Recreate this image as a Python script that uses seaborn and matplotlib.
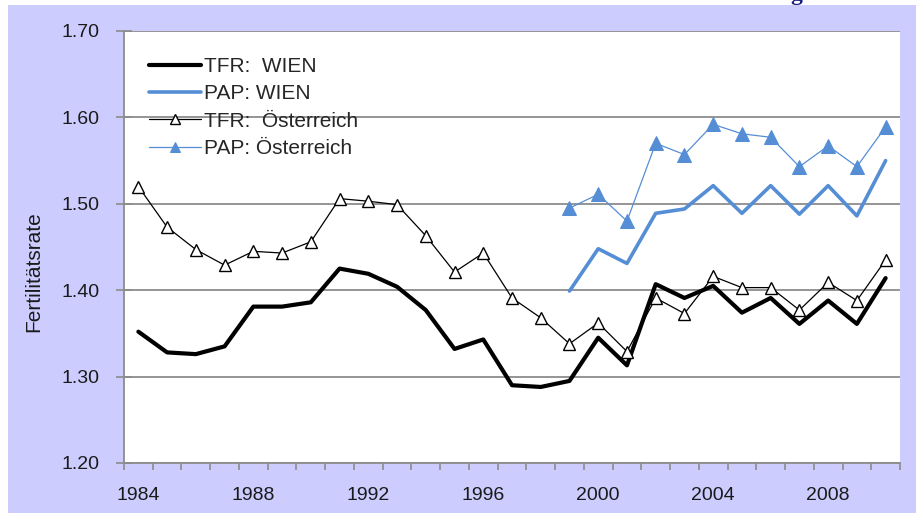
import numpy as np
import pandas as pd
import seaborn as sns
import matplotlib.pyplot as plt
from matplotlib.patches import Rectangle
from matplotlib.ticker import MultipleLocator, FormatStrFormatter

# values
years = list(range(1984, 2011))
tfr_wien = [1.352, 1.328, 1.326, 1.335, 1.381, 1.381, 1.386, 1.425, 1.419, 1.404,
            1.377, 1.332, 1.343, 1.290, 1.288, 1.295, 1.345, 1.313, 1.407, 1.391,
            1.405, 1.374, 1.391, 1.361, 1.388, 1.361, 1.414]
tfr_oe = [1.520, 1.473, 1.447, 1.429, 1.445, 1.443, 1.456, 1.506, 1.503, 1.499,
          1.463, 1.421, 1.443, 1.391, 1.368, 1.338, 1.362, 1.329, 1.391, 1.373,
          1.416, 1.403, 1.403, 1.377, 1.409, 1.388, 1.435]
pap_years = list(range(1999, 2011))
pap_wien = [1.399, 1.448, 1.431, 1.489, 1.494, 1.521, 1.489, 1.521, 1.488, 1.521,
            1.486, 1.550]
pap_oe = [1.495, 1.511, 1.480, 1.570, 1.557, 1.592, 1.581, 1.577, 1.543, 1.567,
          1.543, 1.589]
year_labels = [1984, 1988, 1992, 1996, 2000, 2004, 2008]

BLUE = '#558ed5'
GRID = '#8c8c8c'


def main():
    sns.set_theme(style='white')
    plt.rcParams['font.family'] = ['Liberation Sans', 'DejaVu Sans']

    W, H = 916, 513
    fig = plt.figure(figsize=(W / 100, H / 100), dpi=100)
    fig.patch.set_facecolor('white')
    fig.patches.append(Rectangle((8 / W, 0), 1, (H - 5) / H, transform=fig.transFigure,
                                 facecolor='#ccccff', edgecolor='none', zorder=-5))
    # cut-off heading at the very top
    fig.text(802 / W, 1.0, 'g', ha='right', va='baseline', color='#1a1a80',
             fontsize=17, fontweight='bold', family='Liberation Serif')

    ax = fig.add_axes([124 / W, 50 / H, 776 / W, 432 / H])
    ax.set_facecolor('white')

    sns.lineplot(x=years, y=tfr_wien, ax=ax, color='black', lw=3.0,
                 label='TFR:  WIEN', solid_joinstyle='round')
    sns.lineplot(x=pap_years, y=pap_wien, ax=ax, color=BLUE, lw=2.6,
                 label='PAP: WIEN', solid_joinstyle='round')
    sns.lineplot(x=years, y=tfr_oe, ax=ax, color='black', lw=0.9, marker='^', ms=9,
                 mfc='white', mec='black', mew=1.0, label='TFR:  Österreich')
    sns.lineplot(x=pap_years, y=pap_oe, ax=ax, color=BLUE, lw=0.9, marker='^', ms=9.5,
                 mfc=BLUE, mec=BLUE, label='PAP: Österreich')

    ax.set_xlim(1983.5, 2010.5)
    ax.set_ylim(1.2, 1.7)
    ax.yaxis.set_major_locator(MultipleLocator(0.1))
    ax.yaxis.set_major_formatter(FormatStrFormatter('%.2f'))
    ax.set_xticks(year_labels)
    ax.set_xticklabels([str(y) for y in year_labels])
    ax.set_xticks(np.arange(1983.5, 2011, 1.0), minor=True)

    ax.grid(axis='y', color=GRID, lw=1.3)
    ax.set_axisbelow(True)
    for s in ['top', 'right']:
        ax.spines[s].set_visible(False)
    for s in ['left', 'bottom']:
        ax.spines[s].set_color(GRID)
        ax.spines[s].set_linewidth(1.3)

    ax.tick_params(axis='x', which='major', length=0, pad=17, labelsize=14,
                   labelcolor='#1a1a1a')
    ax.tick_params(axis='x', which='minor', bottom=True, direction='out', length=5,
                   width=1.2, color=GRID)
    ax.tick_params(axis='y', which='major', left=True, direction='inout', length=11,
                   width=1.2, color=GRID, pad=12, labelsize=14, labelcolor='#1a1a1a')
    ax.set_xlabel('')
    ax.set_ylabel('')
    fig.text(34 / W, 1 - 272 / H, 'Fertilitätsrate', rotation=90, ha='center',
             va='center', fontsize=15, color='#1a1a1a')

    ax.legend(loc='upper left', bbox_to_anchor=(0.032, 0.94), frameon=False,
              fontsize=15, handlelength=2.5, handletextpad=0.15, labelspacing=0.4,
              borderpad=0, borderaxespad=0, numpoints=1, markerscale=0.75)

    fig.savefig('out.png', dpi=100)


if __name__ == '__main__':
    main()
